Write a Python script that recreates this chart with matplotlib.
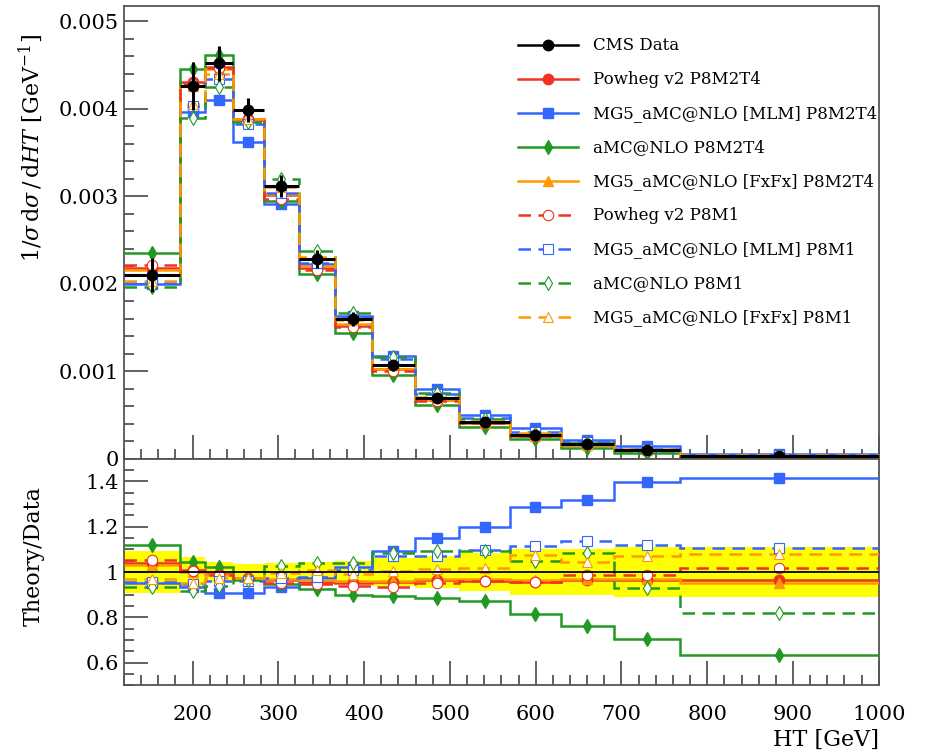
import numpy as np
import matplotlib.pyplot as plt
from matplotlib.lines import Line2D
from matplotlib.ticker import MultipleLocator, FixedLocator, FixedFormatter

plt.rcParams['font.family'] = ['DejaVu Serif']
plt.rcParams['mathtext.fontset'] = 'dejavuserif'

# HT binning [GeV]
edges = [120, 185, 215, 247, 283, 324, 366, 409, 459, 511, 570, 629, 691, 768, 1000]

# CMS data, 1/sigma dsigma/dHT
data = [0.00210, 0.00426, 0.00452, 0.00399, 0.00312, 0.00228, 0.00160,
        0.00107, 0.00069, 0.00042, 0.00027, 0.000165, 0.000100, 0.000035]
# relative uncertainty of the data (yellow band)
data_rel_err = [0.092, 0.065, 0.045, 0.035, 0.04, 0.045, 0.05,
                0.06, 0.07, 0.085, 0.10, 0.10, 0.11, 0.11]

# Theory / Data
powheg_m2t4 = [1.04, 1.01, 0.99, 0.975, 0.965, 0.955, 0.95, 0.955, 0.965, 0.96, 0.958, 0.966, 0.966, 0.966]
mlm_m2t4 = [0.951, 0.932, 0.907, 0.907, 0.935, 0.975, 1.022, 1.094, 1.150, 1.199, 1.288, 1.319, 1.398, 1.416]
amc_m2t4 = [1.121, 1.045, 1.022, 0.975, 0.945, 0.925, 0.90, 0.895, 0.885, 0.873, 0.814, 0.762, 0.706, 0.634]
fxfx_m2t4 = [1.03, 1.0, 0.985, 0.975, 0.97, 0.965, 0.96, 0.962, 0.97, 0.97, 0.965, 0.97, 0.97, 0.953]
powheg_m1 = [1.054, 1.006, 0.988, 0.97, 0.952, 0.945, 0.94, 0.936, 0.951, 0.959, 0.958, 0.988, 0.988, 1.016]
mlm_m1 = [0.955, 0.948, 0.96, 0.96, 0.975, 0.98, 1.01, 1.07, 1.069, 1.099, 1.113, 1.135, 1.121, 1.106]
amc_m1 = [0.936, 0.914, 0.94, 0.965, 1.025, 1.04, 1.04, 1.084, 1.091, 1.091, 1.047, 1.084, 0.929, 0.818]
fxfx_m1 = [0.969, 0.951, 0.973, 0.973, 0.997, 1.01, 0.99, 1.003, 1.015, 1.018, 1.077, 1.044, 1.069, 1.08]

labels = ['Powheg v2 P8M2T4', 'MG5_aMC@NLO [MLM] P8M2T4', 'aMC@NLO P8M2T4',
          'MG5_aMC@NLO [FxFx] P8M2T4', 'Powheg v2 P8M1', 'MG5_aMC@NLO [MLM] P8M1',
          'aMC@NLO P8M1', 'MG5_aMC@NLO [FxFx] P8M1']

red = '#ee3322'
blue = '#3366ff'
green = '#229922'
orange = '#ff9900'

series = [
    (powheg_m2t4, red, '-', 'o', True),
    (mlm_m2t4, blue, '-', 's', True),
    (amc_m2t4, green, '-', 'd', True),
    (fxfx_m2t4, orange, '-', '^', True),
    (powheg_m1, red, (0, (5, 3)), 'o', False),
    (mlm_m1, blue, (0, (5, 3)), 's', False),
    (amc_m1, green, (0, (5, 3)), 'd', False),
    (fxfx_m1, orange, (0, (5, 3)), '^', False),
]

edges_a = np.array(edges, dtype=float)
centers = 0.5 * (edges_a[1:] + edges_a[:-1])
halfw = 0.5 * (edges_a[1:] - edges_a[:-1])
data_a = np.array(data)
rel = np.array(data_rel_err)

fig = plt.figure(figsize=(9.25, 7.52), dpi=100)
ax = fig.add_axes([0.134, 0.390, 0.816, 0.6024])
rax = fig.add_axes([0.134, 0.0887, 0.816, 0.3013], sharex=ax)

lw = 1.8
ms = 7.5
handles = [Line2D([], [], color='black', lw=lw, marker='o', ms=ms)]
for (r, c, ls, mk, filled), lab in zip(series, labels):
    r = np.array(r)
    mc = r * data_a
    mfc = c if filled else 'white'
    mew = 0.8 if not filled else 1.0
    ax.stairs(mc, edges_a, baseline=None, color=c, lw=lw, ls=ls, zorder=3)
    ax.plot(centers, mc, ls='none', marker=mk, ms=ms, mfc=mfc, mec=c, mew=mew, zorder=4)
    rax.stairs(r, edges_a, baseline=None, color=c, lw=lw, ls=ls, zorder=3)
    rax.plot(centers, r, ls='none', marker=mk, ms=ms, mfc=mfc, mec=c, mew=mew, zorder=4)
    handles.append(Line2D([], [], color=c, lw=lw, ls=ls, marker=mk, ms=ms,
                          mfc=mfc, mec=c, mew=mew))

ax.errorbar(centers, data_a, xerr=halfw, yerr=rel * data_a, fmt='o', color='black',
            ms=ms, elinewidth=2.2, capsize=0, zorder=6)

# data uncertainty band in the ratio
rax.stairs(1 + rel, edges_a, baseline=1 - rel, fill=True, color='#ffff00', lw=0, zorder=1)
rax.axhline(1.0, color='black', lw=1.3, zorder=5)

spine_c = '#555555'
for a in (ax, rax):
    a.set_xlim(120, 1000)
    for s in a.spines.values():
        s.set_color(spine_c)
        s.set_linewidth(1.3)
    a.tick_params(which='both', direction='in', top=False, right=False,
                  color=spine_c, width=1.3, labelsize=15, labelcolor='black')
    a.tick_params(which='major', length=17)
    a.tick_params(which='minor', length=7.5)
    a.xaxis.set_minor_locator(MultipleLocator(20))

ax.set_ylim(0, 0.00518)
ax.yaxis.set_major_locator(FixedLocator([0, 0.001, 0.002, 0.003, 0.004, 0.005]))
ax.yaxis.set_major_formatter(FixedFormatter(['0', '0.001', '0.002', '0.003', '0.004', '0.005']))
ax.yaxis.set_minor_locator(MultipleLocator(0.0002))
ax.tick_params(axis='x', labelbottom=False)

rax.set_ylim(0.5, 1.5)
rax.yaxis.set_major_locator(FixedLocator([0.6, 0.8, 1.0, 1.2, 1.4]))
rax.yaxis.set_major_formatter(FixedFormatter(['0.6', '0.8', '1', '1.2', '1.4']))
rax.yaxis.set_minor_locator(MultipleLocator(0.05))
rax.xaxis.set_major_locator(FixedLocator([200, 300, 400, 500, 600, 700, 800, 900, 1000]))
rax.tick_params(axis='x', pad=14)

ax.set_ylabel(r'$1/\sigma\,\mathrm{d}\sigma\,/\,\mathrm{d}HT$ [GeV$^{-1}$]', fontsize=16)
ax.yaxis.set_label_coords(-0.105, 0.686)
rax.set_ylabel('Theory/Data', fontsize=16)
rax.yaxis.set_label_coords(-0.105, 0.571)
rax.set_xlabel('HT [GeV]', fontsize=16, loc='right', labelpad=4)

ax.legend(handles, ['CMS Data'] + labels, loc='upper left', bbox_to_anchor=(0.522, 0.93),
          frameon=False, fontsize=12, handlelength=3.6, handletextpad=0.9,
          labelspacing=1.02, borderpad=0, borderaxespad=0, numpoints=1)

fig.savefig('out.png', dpi=100)
